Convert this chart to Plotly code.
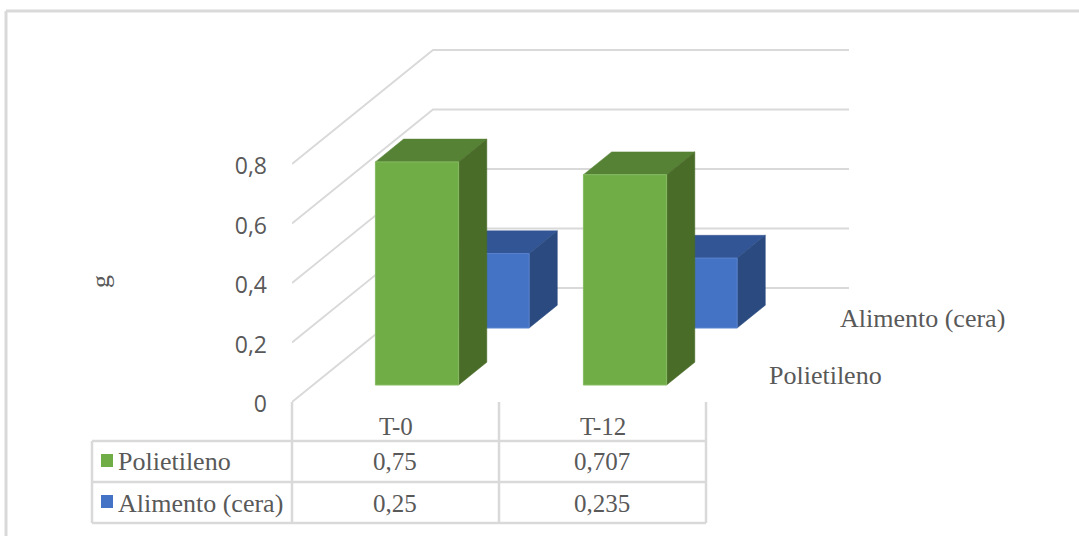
import plotly.graph_objects as go

# Chart data
categories = ["T-0", "T-12"]
series_names = ["Polietileno", "Alimento (cera)"]
polietileno = [0.75, 0.707]
alimento = [0.25, 0.235]
value_labels = [["0,75", "0,707"], ["0,25", "0,235"]]
y_ticks = [0, 0.2, 0.4, 0.6, 0.8]

# Canvas and oblique projection settings, in pixels
W, H = 1079, 536
ORIGIN_X, ORIGIN_Y = 292, 402
CAT_PX = 208
UNIT_PX = 297.5
DEPTH_DX = 141
DEPTH_DY = 114
BAR_WIDTH = 0.40
BAR_DEPTH = 0.2

GRID = "#D9D9D9"
TEXT = "#595959"
SERIF = "Liberation Serif"

styles = [
    {"front": "#70AD47", "top": "#568235", "side": "#4A6C29", "edge": "#85BB62"},
    {"front": "#4472C4", "top": "#325595", "side": "#2A4A80", "edge": "#5A84CE"},
]


def project(cat, depth, value):
    """Map (category position, depth 0..1, value) to the 2D axes."""
    return (cat + depth * DEPTH_DX / CAT_PX, value + depth * DEPTH_DY / UNIT_PX)


def px_x(px):
    return px / W


def px_y(py):
    return 1 - py / H


def polygon(points, color, edge, width=0.5):
    xs = [p[0] for p in points] + [points[0][0]]
    ys = [p[1] for p in points] + [points[0][1]]
    return go.Scatter(
        x=xs, y=ys, mode="lines", fill="toself", fillcolor=color,
        line=dict(color=edge, width=width), hoverinfo="skip", showlegend=False,
    )


fig = go.Figure()

# Depth rails and back wall gridlines
for v in y_ticks:
    a = project(0, 0, v)
    b = project(0, 1, v)
    c = project(len(categories), 1, v)
    fig.add_trace(go.Scatter(
        x=[a[0], b[0], c[0]], y=[a[1], b[1], c[1]], mode="lines",
        line=dict(color=GRID, width=1.8), hoverinfo="skip", showlegend=False,
    ))

# Bars, back row first so the front row overlaps it
rows = [polietileno, alimento]
for s in (1, 0):
    z0 = 0.25 + 0.5 * s - BAR_DEPTH / 2 - 0.001
    z1 = z0 + BAR_DEPTH
    st = styles[s]
    for i, val in enumerate(rows[s]):
        x0 = i + 0.5 - BAR_WIDTH / 2
        x1 = i + 0.5 + BAR_WIDTH / 2
        fig.add_trace(polygon(
            [project(x0, z1, val), project(x1, z1, val), project(x1, z0, val), project(x0, z0, val)],
            st["top"], st["top"]))
        fig.add_trace(polygon(
            [project(x1, z0, 0), project(x1, z1, 0), project(x1, z1, val), project(x1, z0, val)],
            st["side"], st["side"]))
        fig.add_trace(polygon(
            [project(x0, z0, 0), project(x1, z0, 0), project(x1, z0, val), project(x0, z0, val)],
            st["front"], st["edge"], 1))

shapes = []


def rule(x0, y0, x1, y1, width=2):
    shapes.append(dict(
        type="line", xref="paper", yref="paper",
        x0=px_x(x0), y0=px_y(y0), x1=px_x(x1), y1=px_y(y1),
        line=dict(color=GRID, width=width),
    ))


# Outer frame of the chart area, open on the right and at the bottom
rule(6, 11, W, 11, 3)
rule(6, 11, 6, H, 3)

# Data table grid
TABLE_LEFT, TABLE_TOP, ROW_H = 92, 441, 41
col_edges = [ORIGIN_X + k * 207 for k in range(len(categories) + 1)]
for k in range(3):
    rule(TABLE_LEFT, TABLE_TOP + k * ROW_H, col_edges[-1], TABLE_TOP + k * ROW_H, 2.5)
rule(TABLE_LEFT, TABLE_TOP, TABLE_LEFT, TABLE_TOP + 2 * ROW_H, 2.5)
for xe in col_edges:
    rule(xe, ORIGIN_Y, xe, TABLE_TOP + 2 * ROW_H, 2.5)

annotations = []


def label(text, px, py, size=25, anchor="center", angle=0, family=SERIF):
    annotations.append(dict(
        text=text, xref="paper", yref="paper", x=px_x(px), y=px_y(py),
        xanchor=anchor, yanchor="middle", showarrow=False, textangle=angle,
        font=dict(family=family, size=size, color=TEXT),
    ))


# Table contents and legend keys
for i, cat in enumerate(categories):
    cx = (col_edges[i] + col_edges[i + 1]) / 2
    label(cat, cx, 426)
    for s in range(2):
        label(value_labels[s][i], cx - 1, 461 + s * ROW_H + (1 if s else 0))
for s, name in enumerate(series_names):
    y_mid = 461 + s * ROW_H + (1 if s else 0)
    label(name, 116, y_mid, size=26, anchor="left")
    shapes.append(dict(
        type="rect", xref="paper", yref="paper",
        x0=px_x(101), x1=px_x(113), y0=px_y(454 + s * ROW_H), y1=px_y(467 + s * ROW_H),
        fillcolor=styles[s]["front"], line=dict(width=0),
    ))

# Depth axis names beside the floor of each row
label(series_names[0], 767, 375, size=26, anchor="left")
label(series_names[1], 838, 318, size=26, anchor="left")

# Value axis unit
label("g", 100, 282, size=26, angle=-90)

fig.update_layout(
    width=W, height=H, autosize=False,
    margin=dict(l=0, r=0, t=0, b=0),
    paper_bgcolor="white", plot_bgcolor="white",
    separators=", ",
    showlegend=False,
    shapes=shapes, annotations=annotations,
    xaxis=dict(
        domain=[px_x(ORIGIN_X), 1],
        range=[0, (W - ORIGIN_X) / CAT_PX],
        visible=False, fixedrange=True,
    ),
    yaxis=dict(
        range=[(ORIGIN_Y - H) / UNIT_PX, ORIGIN_Y / UNIT_PX],
        tickmode="array", tickvals=y_ticks, tickformat=".1~f",
        showgrid=False, zeroline=False, showline=False, ticks="",
        ticklabelstandoff=24, ticklabelshift=2, fixedrange=True,
        tickfont=dict(family="Open Sans", size=23, color=TEXT),
    ),
)

fig.write_html("out.html", config={"displayModeBar": False})
